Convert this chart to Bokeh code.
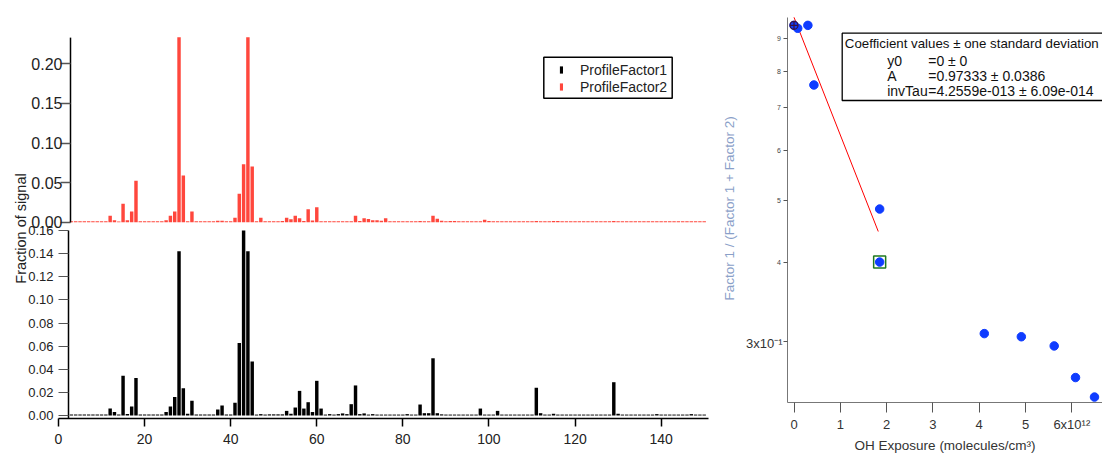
import math
from bokeh.plotting import figure
from bokeh.layouts import row
from bokeh.models import (Range1d, LinearAxis, LogAxis, FixedTicker, CustomJSTickFormatter,
                          NumeralTickFormatter, Legend, LegendItem, BoxAnnotation, Label)
from bokeh.embed import file_html
from bokeh.resources import INLINE

# ---------------- data ----------------
mz = list(range(3, 151))

profile_factor1 = [
    0.0008, 0.0008, 0.0008, 0.0008, 0.0008, 0.0008, 0.0008,                      # 3-9
    0.0008, 0.0008, 0.006, 0.003, 0.0008, 0.0343, 0.0012, 0.0078, 0.0325, 0.0008,  # 10-19
    0.0008, 0.0008, 0.0008, 0.0008, 0.0008, 0.003, 0.0078, 0.016, 0.142, 0.0236,   # 20-29
    0.0015, 0.0127, 0.0008, 0.0008, 0.0008, 0.0008, 0.0008, 0.0052, 0.0086, 0.0008,  # 30-39
    0.0008, 0.011, 0.0628, 0.160, 0.142, 0.0467, 0.0008, 0.0012, 0.0008, 0.001,    # 40-49
    0.001, 0.001, 0.001, 0.004, 0.0015, 0.0069, 0.0213, 0.006, 0.0115, 0.003,      # 50-59
    0.030, 0.006, 0.0008, 0.0012, 0.0008, 0.0012, 0.0018, 0.0012, 0.0098, 0.026,   # 60-69
    0.0012, 0.0018, 0.0008, 0.0012, 0.0008, 0.0008, 0.0008, 0.0008, 0.0008, 0.0008,  # 70-79
    0.0008, 0.0012, 0.0008, 0.0008, 0.0095, 0.002, 0.002, 0.0495, 0.002, 0.001,   # 80-89
    0.0008, 0.0008, 0.0008, 0.0008, 0.0008, 0.0008, 0.0008, 0.0008, 0.006, 0.0008,  # 90-99
    0.0008, 0.0008, 0.004, 0.0008, 0.0008, 0.0008, 0.0008, 0.0008, 0.0008, 0.0008,  # 100-109
    0.0008, 0.024, 0.002, 0.0008, 0.0008, 0.0015, 0.0008, 0.0008, 0.0008, 0.0008,  # 110-119
    0.0008, 0.0008, 0.0008, 0.0008, 0.0008, 0.0008, 0.0008, 0.0008, 0.0008, 0.0288,  # 120-129
    0.0015, 0.0008, 0.0008, 0.0008, 0.0008, 0.0008, 0.0008, 0.0008, 0.0008, 0.0012,  # 130-139
    0.0008, 0.0008, 0.0008, 0.0008, 0.0008, 0.0008, 0.0008, 0.0012, 0.0008, 0.0008,  # 140-149
    0.0008,                                                                        # 150
]

profile_factor2 = [
    0.0012, 0.0012, 0.0012, 0.0012, 0.0012, 0.0012, 0.0012,                        # 3-9
    0.0012, 0.0012, 0.008, 0.0025, 0.001, 0.0232, 0.0025, 0.0135, 0.0522, 0.0012,   # 10-19
    0.0012, 0.0012, 0.0012, 0.0012, 0.0012, 0.0025, 0.008, 0.0135, 0.245, 0.059,    # 20-29
    0.0013, 0.0135, 0.0012, 0.0012, 0.0012, 0.0012, 0.0012, 0.0018, 0.0018, 0.0012,  # 30-39
    0.0012, 0.0055, 0.0358, 0.0733, 0.25, 0.0703, 0.0012, 0.0055, 0.0012, 0.0012,   # 40-49
    0.0012, 0.0012, 0.0015, 0.0055, 0.0038, 0.008, 0.005, 0.0015, 0.0164, 0.002,    # 50-59
    0.019, 0.0012, 0.0012, 0.0012, 0.0012, 0.0012, 0.0012, 0.0012, 0.0012, 0.008,   # 60-69
    0.0015, 0.005, 0.004, 0.0025, 0.0025, 0.0017, 0.005, 0.0012, 0.0012, 0.0012,    # 70-79
    0.0012, 0.0012, 0.0012, 0.0012, 0.0015, 0.0012, 0.0012, 0.008, 0.0042, 0.0017,  # 80-89
    0.0012, 0.0015, 0.0015, 0.0012, 0.0012, 0.0012, 0.0012, 0.0012, 0.0012, 0.003,  # 90-99
    0.0015, 0.0012, 0.0012, 0.0012, 0.0012, 0.0012, 0.0012, 0.0012, 0.0012, 0.0012,  # 100-109
    0.0012, 0.0015, 0.0012, 0.0012, 0.0012, 0.0015, 0.0015, 0.0012, 0.0012, 0.0012,  # 110-119
    0.0012, 0.0012, 0.0012, 0.0012, 0.0012, 0.0012, 0.0012, 0.0012, 0.0012, 0.0015,  # 120-129
    0.0012, 0.0012, 0.0012, 0.0012, 0.0012, 0.0012, 0.0012, 0.0012, 0.0012, 0.0012,  # 130-139
    0.0012, 0.0012, 0.0012, 0.0012, 0.0012, 0.0012, 0.0012, 0.0012, 0.0012, 0.0012,  # 140-149
    0.0012,                                                                          # 150
]

series_names = ["ProfileFactor1", "ProfileFactor2"]
mz_ticks = [0, 20, 40, 60, 80, 100, 120, 140]
f1_ticks = [0.0, 0.02, 0.04, 0.06, 0.08, 0.10, 0.12, 0.14, 0.16]
f2_ticks = [0.0, 0.05, 0.10, 0.15, 0.20]

oh_exposure = [0.0, 0.08e12, 0.30e12, 0.43e12, 1.85e12, 1.85e12,
               4.11e12, 4.91e12, 5.62e12, 6.08e12, 6.49e12]
factor_ratio = [0.945, 0.935, 0.945, 0.761, 0.485, 0.400,
                0.3085, 0.305, 0.295, 0.263, 0.245]
cursor_a = 0
cursor_b = 5
fit_x = [0.0, 1.82e12]
fit_y = [0.973, 0.447]
oh_ticks = [0, 1e12, 2e12, 3e12, 4e12, 5e12, 6e12]
ratio_ticks = [0.3, 0.4, 0.5, 0.6, 0.7, 0.8, 0.9]

coef_title = "Coefficient values \u00b1 one standard deviation"
coef_names = ["y0", "A", "invTau"]
coef_values = ["=0 \u00b1 0", "=0.97333 \u00b1 0.0386", "=4.2559e-013 \u00b1 6.09e-014"]

FONT = "Liberation Sans"
RED = "#ff473d"
H = 457

# ---------------- pixel helpers (page pixels -> data) ----------------
def lx(px):
    return (px - 58) * 151 / 650

def ly_bot(py):
    return (415 - py) / 1156

def ly_top(py):
    return (221.7 - py) / 792

def rx(px):
    return (px - 793.5) / 46.3 * 1e12

def ry(py):
    return 0.9 * 10 ** ((38.3 - py) / 634)

# ---------------- left figure (frame = whole canvas, axes at fixed places) ----------------
left = figure(width=710, height=H, output_backend="svg", toolbar_location=None,
              x_range=Range1d(lx(0), lx(710)), y_range=Range1d(ly_bot(H), ly_bot(0)),
              x_axis_type=None, y_axis_type=None,
              min_border_left=0, min_border_right=0, min_border_top=0, min_border_bottom=0)
left.outline_line_color = None
left.extra_y_ranges = {"top": Range1d(ly_top(H), ly_top(0))}

r1 = left.vbar(x=mz, top=profile_factor1, bottom=0, width=0.8, fill_color="black", line_color=None)
r2 = left.vbar(x=mz, top=profile_factor2, bottom=0, width=0.8, fill_color=RED, line_color=None,
               y_range_name="top")

# white mask above the top panel's axis end (bars are clipped there in the original)
left.add_layout(BoxAnnotation(left=lx(58), right=lx(712), top=ly_top(-5), bottom=ly_top(36.7),
                              y_range_name="top", fill_color="white", fill_alpha=1,
                              line_alpha=0))

xax = LinearAxis(ticker=FixedTicker(ticks=mz_ticks), fixed_location=ly_bot(417.5), bounds=(0, 151),
                 major_tick_out=8, major_tick_in=0, minor_tick_out=0, minor_tick_in=0,
                 axis_line_width=1.5, major_tick_line_width=1.5,
                 major_label_text_font=FONT, major_label_text_font_size="14px",
                 major_label_text_color="#222", major_label_standoff=8)
left.add_layout(xax, "below")

yb = LinearAxis(ticker=FixedTicker(ticks=f1_ticks), formatter=NumeralTickFormatter(format="0.00"),
                fixed_location=lx(68), bounds=(ly_bot(417.5), 0.16),
                major_tick_out=10, major_tick_in=0, minor_tick_out=0, minor_tick_in=0,
                axis_line_width=1.5, major_tick_line_width=1, major_tick_line_color="#555",
                major_label_text_font=FONT, major_label_text_font_size="13px",
                major_label_text_color="#222", major_label_standoff=5)
left.add_layout(yb, "left")

yt = LinearAxis(ticker=FixedTicker(ticks=f2_ticks), formatter=NumeralTickFormatter(format="0.00"),
                y_range_name="top", fixed_location=lx(70), bounds=(0, ly_top(36.7)),
                major_tick_out=10, major_tick_in=0, minor_tick_out=0, minor_tick_in=0,
                axis_line_width=1.5, major_tick_line_width=1.5, major_tick_line_color="#555",
                major_label_text_font=FONT, major_label_text_font_size="16px",
                major_label_text_color="#222", major_label_standoff=-2)
left.add_layout(yt, "left")

left.add_layout(Label(x=lx(20), y=ly_bot(228), text="Fraction of signal", angle=math.pi / 2,
                      text_align="center", text_baseline="middle", text_font=FONT,
                      text_font_size="14.5px", text_color="#222"))

left.add_layout(BoxAnnotation(left=lx(543.3), right=lx(671.7), top=ly_top(56.7), bottom=ly_top(97.7),
                              y_range_name="top", fill_alpha=0, line_color="black",
                              line_alpha=1, line_width=1.5))
leg = Legend(items=[LegendItem(label=series_names[0], renderers=[r1]),
                    LegendItem(label=series_names[1], renderers=[r2])],
             location=(559, 362), glyph_width=4, glyph_height=9, label_standoff=17,
             padding=0, spacing=0, margin=0, label_height=17,
             label_text_font=FONT, label_text_font_size="14px", label_text_color="#222",
             border_line_color=None, background_fill_alpha=0)
left.add_layout(leg)

# ---------------- right figure ----------------
right = figure(width=392, height=H, output_backend="svg", toolbar_location=None,
               x_range=Range1d(rx(710), rx(1102)), y_range=Range1d(ry(H), ry(0)),
               x_axis_type=None, y_axis_type="log",
               min_border_left=0, min_border_right=0, min_border_top=0, min_border_bottom=0)
right.outline_line_color = None
right.grid.visible = False
right.yaxis.visible = False

oh_axis = LinearAxis(ticker=FixedTicker(ticks=oh_ticks),
                     formatter=CustomJSTickFormatter(
                         code="const v = Math.round(tick/1e12); return v == 6 ? '6x10\u00b9\u00b2' : String(v);"),
                     fixed_location=ry(401.7), bounds=(rx(787.3), rx(1110)),
                     major_tick_out=10, major_tick_in=0, minor_tick_out=0, minor_tick_in=0,
                     axis_line_color="#777", major_tick_line_color="#555",
                     major_label_text_font=FONT, major_label_text_font_size="13px",
                     major_label_text_color="#333", major_label_standoff=5,
                     axis_label="OH Exposure (molecules/cm\u00b3)", axis_label_standoff=2,
                     axis_label_text_font=FONT, axis_label_text_font_size="13.5px",
                     axis_label_text_font_style="normal", axis_label_text_color="#333")
right.add_layout(oh_axis, "below")

ratio_axis = LogAxis(ticker=FixedTicker(ticks=ratio_ticks),
                     formatter=CustomJSTickFormatter(
                         code="return tick < 0.35 ? '' : String(Math.round(tick*10));"),
                     fixed_location=rx(787.3), bounds=(ry(401.7), ry(16.7)),
                     major_tick_out=4, major_tick_in=0, minor_tick_out=0, minor_tick_in=0,
                     axis_line_color="#777", major_tick_line_color="#555",
                     major_label_text_font=FONT, major_label_text_font_size="7px",
                     major_label_text_color="#444", major_label_standoff=3)
right.add_layout(ratio_axis, "left")

right.line(fit_x, fit_y, line_color="red", line_width=1)
right.scatter(oh_exposure, factor_ratio, size=8.5, fill_color="#0f3cff", line_color="#0f3cff")
right.scatter([oh_exposure[cursor_a]], [factor_ratio[cursor_a]], marker="circle_cross", size=8,
              fill_color=None, line_color="#3a1040", line_width=1.2)
right.scatter([oh_exposure[cursor_b]], [factor_ratio[cursor_b]], marker="square", size=12,
              fill_color=None, line_color="#1f7a1f", line_width=1.5)

right.add_layout(Label(x=rx(782), y=ry(343), text="3x10\u207b\u00b9", text_align="right",
                       text_baseline="middle", text_font=FONT, text_font_size="13px",
                       text_color="#333"))
right.add_layout(Label(x=rx(729), y=ry(206), text="Factor 1  / (Factor 1 + Factor 2)",
                       angle=math.pi / 2, text_align="center", text_baseline="middle",
                       text_font=FONT, text_font_size="13.5px", text_color="#8aa0c8"))

right.add_layout(BoxAnnotation(left=rx(841.7), right=rx(1110), top=ry(32.7), bottom=ry(100),
                               fill_color="white", fill_alpha=1, line_color="black",
                               line_alpha=1, line_width=1.3))
right.add_layout(Label(x=rx(844.3), y=ry(43.3), text=coef_title, text_baseline="middle",
                       text_font=FONT, text_font_size="13.3px", text_color="#111"))
for i, (nm, val) in enumerate(zip(coef_names, coef_values)):
    yy = ry(60 + i * 15.4)
    right.add_layout(Label(x=rx(886.7), y=yy, text=nm, text_baseline="middle",
                           text_font=FONT, text_font_size="14px", text_color="#111"))
    right.add_layout(Label(x=rx(927.7), y=yy, text=val, text_baseline="middle",
                           text_font=FONT, text_font_size="14px", text_color="#111"))

layout = row(left, right)
open("out.html", "w").write(file_html(layout, INLINE))
